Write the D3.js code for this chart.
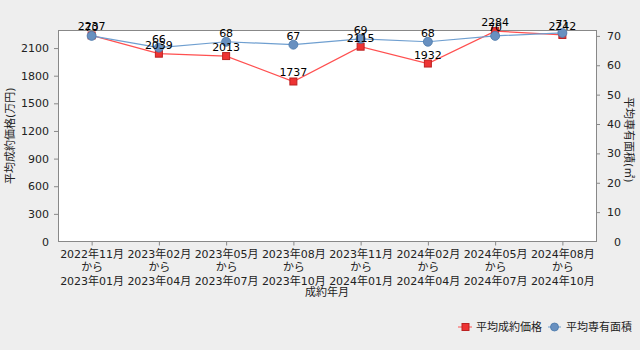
<!DOCTYPE html>
<html><head><meta charset="utf-8">
<script src="https://cdn.jsdelivr.net/npm/d3@7"></script>
<style>
html,body{margin:0;padding:0;background:#eeeeee;}
svg{display:block;}
svg text{font-family:"DejaVu Sans","Noto Sans CJK JP",sans-serif !important;}
</style></head><body>
<svg id="c" width="640" height="350"></svg>
<script>
const categories = [
  ["2022年11月","から","2023年01月"],
  ["2023年02月","から","2023年04月"],
  ["2023年05月","から","2023年07月"],
  ["2023年08月","から","2023年10月"],
  ["2023年11月","から","2024年01月"],
  ["2024年02月","から","2024年04月"],
  ["2024年05月","から","2024年07月"],
  ["2024年08月","から","2024年10月"]
];
const priceValues = [2237, 2039, 2013, 1737, 2115, 1932, 2284, 2242];
const areaValues = [70, 66, 68, 67, 69, 68, 70, 71];
const leftTicks = [0, 300, 600, 900, 1200, 1500, 1800, 2100];
const rightTicks = [0, 10, 20, 30, 40, 50, 60, 70];
const seriesNames = ["平均成約価格", "平均専有面積"];
const xTitle = "成約年月";
const yLeftTitle = "平均成約価格(万円)";
const yRightTitle = "平均専有面積(㎡)";

const svg = d3.select("#c");
const L = 58, R = 596, T = 30, B = 241.5;
const font = 11;
const txt = "#222222";

const x = d3.scalePoint().domain(d3.range(categories.length)).range([L, R]).padding(0.5);
const yL = d3.scaleLinear().domain([0, 2296]).range([B, T]);
const yR = d3.scaleLinear().domain([0, 72]).range([B, T]);

// plot background
svg.append("rect").attr("x", L).attr("y", T).attr("width", R - L).attr("height", B - T)
  .attr("fill", "#ffffff").attr("stroke", "#888888").attr("stroke-width", 1)
  .attr("shape-rendering", "crispEdges");

// left axis
const gl = svg.append("g").attr("transform", `translate(${L},0)`)
  .call(d3.axisLeft(yL).tickValues(leftTicks).tickFormat(d3.format("d")).tickSize(4).tickPadding(5));
// right axis
const gr = svg.append("g").attr("transform", `translate(${R},0)`)
  .call(d3.axisRight(yR).tickValues(rightTicks).tickFormat(d3.format("d")).tickSize(4).tickPadding(5));
[gl, gr].forEach(g => {
  g.attr("font-size", font);
  g.select(".domain").remove();
  g.selectAll(".tick line").attr("stroke", "#888888");
  g.selectAll(".tick text").attr("fill", txt);
});
gl.selectAll(".tick").filter(d => d === 0).select("line").remove();
gr.selectAll(".tick").filter(d => d === 0).select("line").remove();
gr.selectAll(".tick text").attr("text-anchor", "end").attr("x", 25);

// x axis
const gx = svg.append("g").attr("transform", `translate(0,${B})`)
  .call(d3.axisBottom(x).tickSize(4).tickFormat(""));
gx.attr("font-size", font);
gx.select(".domain").remove();
gx.selectAll(".tick line").attr("stroke", "#888888");
gx.selectAll(".tick").each(function(d) {
  const t = d3.select(this).append("text").attr("fill", txt).attr("font-size", font)
    .attr("text-anchor", "middle");
  categories[d].forEach((s, i) => {
    t.append("tspan").attr("x", 0).attr("y", 16 + i * 13.8).text(s);
  });
});

// titles
svg.append("text").attr("x", (L + R) / 2).attr("y", 296).attr("text-anchor", "middle")
  .attr("font-size", font).attr("fill", txt).text(xTitle);
svg.append("text").attr("transform", `translate(14,${(T + B) / 2}) rotate(-90)`)
  .attr("text-anchor", "middle").attr("font-size", font).attr("fill", txt).text(yLeftTitle);
svg.append("text").attr("transform", `translate(625,${(T + B) / 2 + 4}) rotate(90)`)
  .attr("text-anchor", "middle").attr("font-size", font).attr("fill", txt).text(yRightTitle);

const red = "#ff5050", redFill = "#ee3333", redStroke = "#bb2222";
const blue = "#6f9fd0", blueFill = "#6890c0", blueStroke = "#4a78aa";

// price line
svg.append("path").datum(priceValues)
  .attr("d", d3.line().x((d, i) => x(i)).y(d => yL(d)))
  .attr("fill", "none").attr("stroke", red).attr("stroke-width", 1.2);
// area line
svg.append("path").datum(areaValues)
  .attr("d", d3.line().x((d, i) => x(i)).y(d => yR(d)))
  .attr("fill", "none").attr("stroke", blue).attr("stroke-width", 1.2);

// price markers
svg.selectAll(".sq").data(priceValues).enter().append("rect")
  .attr("x", (d, i) => x(i) - 3.5).attr("y", d => yL(d) - 3.5)
  .attr("width", 7).attr("height", 7)
  .attr("fill", redFill).attr("stroke", redStroke).attr("stroke-width", 1);
// area markers
svg.selectAll(".ci").data(areaValues).enter().append("circle")
  .attr("cx", (d, i) => x(i)).attr("cy", d => yR(d)).attr("r", 4.5)
  .attr("fill", blueFill).attr("stroke", blueStroke).attr("stroke-width", 0.8);

// labels
svg.selectAll(".pl").data(priceValues).enter().append("text")
  .attr("x", (d, i) => x(i)).attr("y", d => yL(d) - 5)
  .attr("text-anchor", "middle").attr("font-size", font).attr("fill", "#000")
  .text(d => d);
svg.selectAll(".al").data(areaValues).enter().append("text")
  .attr("x", (d, i) => x(i)).attr("y", d => yR(d) - 5)
  .attr("text-anchor", "middle").attr("font-size", font).attr("fill", "#000")
  .text(d => d);

// legend
const ly = 327;
const lg = svg.append("g");
lg.append("line").attr("x1", 458).attr("x2", 472).attr("y1", ly).attr("y2", ly).attr("stroke", red);
lg.append("rect").attr("x", 462).attr("y", ly - 3.5).attr("width", 7).attr("height", 7)
  .attr("fill", redFill).attr("stroke", redStroke);
lg.append("text").attr("x", 476).attr("y", ly).attr("dominant-baseline", "central")
  .attr("font-size", font).attr("fill", txt).text(seriesNames[0]);
lg.append("line").attr("x1", 548).attr("x2", 561).attr("y1", ly).attr("y2", ly).attr("stroke", blue);
lg.append("circle").attr("cx", 554.5).attr("cy", ly).attr("r", 4)
  .attr("fill", blueFill).attr("stroke", blueStroke).attr("stroke-width", 0.8);
lg.append("text").attr("x", 566).attr("y", ly).attr("dominant-baseline", "central")
  .attr("font-size", font).attr("fill", txt).text(seriesNames[1]);
</script>
</body></html>
